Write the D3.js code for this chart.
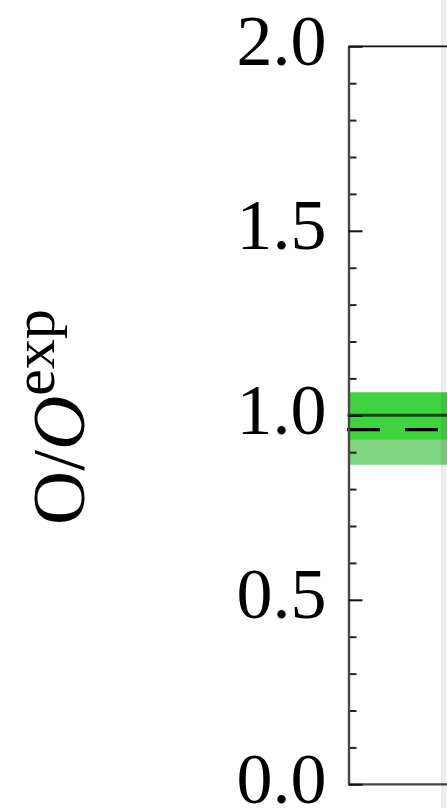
<!DOCTYPE html>
<html>
<head>
<meta charset="utf-8">
<script src="https://cdn.jsdelivr.net/npm/d3@7"></script>
<style>
  html, body { margin: 0; padding: 0; background: #fff; overflow: hidden; }
  svg { display: block; }
</style>
</head>
<body>
<svg id="chart" width="447" height="808"></svg>
<script>
// Ratio of observed to expected yield, with its uncertainty band
const yDomain = [0, 2];
const majorTicks = [0.0, 0.5, 1.0, 1.5, 2.0];
const minorTicks = [0.1, 0.2, 0.3, 0.4, 0.6, 0.7, 0.8, 0.9, 1.1, 1.2, 1.3, 1.4, 1.6, 1.7, 1.8, 1.9];
const bandInner = [0.934, 1.062];   // 1-sigma band
const bandOuter = [0.866, 1.062];   // extended band
const referenceValue = [1.0];       // solid reference line
const observedValue = [0.961];      // dashed measured line

const svg = d3.select("#chart");
const plotLeft = 348.5, plotTop = 46.3, plotBottom = 784.3, plotRight = 900;

const y = d3.scaleLinear().domain(yDomain).range([plotBottom, plotTop]);
const x = d3.scaleLinear().domain([0, 1]).range([plotLeft, plotRight]);

const plot = svg.append("g");

// outer (light) band, then inner (darker) band on top
plot.append("rect")
  .attr("x", x(0) + 1).attr("width", x(1) - x(0))
  .attr("y", y(bandOuter[1])).attr("height", y(bandOuter[0]) - y(bandOuter[1]))
  .attr("fill", "#80d580");
plot.append("rect")
  .attr("x", x(0) + 1).attr("width", x(1) - x(0))
  .attr("y", y(bandInner[1])).attr("height", y(bandInner[0]) - y(bandInner[1]))
  .attr("fill", "#3fd43f");

// reference line
plot.selectAll(".ref").data(referenceValue).join("line")
  .attr("x1", x(0) - 1).attr("x2", x(1))
  .attr("y1", d => y(d)).attr("y2", d => y(d))
  .attr("stroke", "#0c4a0c").attr("stroke-width", 3);

// observed value, dashed
plot.selectAll(".obs").data(observedValue).join("line")
  .attr("x1", x(0) - 1.5).attr("x2", x(1))
  .attr("y1", d => y(d)).attr("y2", d => y(d))
  .attr("stroke", "#000").attr("stroke-width", 3.2)
  .attr("stroke-dasharray", "33,25");

// frame
svg.append("line").attr("x1", plotLeft).attr("x2", plotRight).attr("y1", plotTop).attr("y2", plotTop)
  .attr("stroke", "#111").attr("stroke-width", 1.8);
svg.append("line").attr("x1", plotLeft).attr("x2", plotRight).attr("y1", plotBottom).attr("y2", plotBottom)
  .attr("stroke", "#444").attr("stroke-width", 2.2);

// minor ticks
const minorAxis = d3.axisLeft(y).tickValues(minorTicks).tickSizeInner(-8).tickSizeOuter(0).tickFormat("");
svg.append("g").attr("transform", `translate(${plotLeft},0)`).call(minorAxis)
  .call(g => g.select(".domain").remove())
  .call(g => g.selectAll(".tick line").attr("stroke", "#222").attr("stroke-width", 2));

// major ticks with labels
const majorAxis = d3.axisLeft(y).tickValues(majorTicks).tickSizeInner(-14).tickSizeOuter(0)
  .tickPadding(22).tickFormat(d3.format(".1f"));
svg.append("g").attr("transform", `translate(${plotLeft},0)`).call(majorAxis)
  .call(g => g.select(".domain").attr("stroke", "#484848").attr("stroke-width", 2.4))
  .call(g => g.selectAll(".tick line").attr("stroke", "#111").attr("stroke-width", 2))
  .call(g => g.selectAll(".tick text")
    .attr("font-family", "'Liberation Serif', 'DejaVu Serif', serif")
    .attr("font-size", 72).attr("fill", "#000").attr("dy", "0.25em"));

// y axis title
const title = svg.append("text")
  .attr("transform", "translate(84,525) rotate(-90)")
  .attr("font-family", "'Liberation Serif', 'DejaVu Serif', serif")
  .attr("font-size", 75).attr("fill", "#000");
title.append("tspan").text("O/");
title.append("tspan").attr("font-style", "italic").text("O");
title.append("tspan").attr("font-size", 60).attr("dy", -30).text("exp");

// soft edge shading at the right border
const grad = svg.append("defs").append("linearGradient").attr("id", "edge")
  .attr("x1", "0").attr("x2", "1").attr("y1", "0").attr("y2", "0");
grad.append("stop").attr("offset", "0").attr("stop-color", "#000").attr("stop-opacity", 0.09);
grad.append("stop").attr("offset", "1").attr("stop-color", "#000").attr("stop-opacity", 0.05);
svg.append("rect").attr("x", 441).attr("y", 0).attr("width", 6).attr("height", 808)
  .attr("fill", "url(#edge)");
</script>
</body>
</html>
